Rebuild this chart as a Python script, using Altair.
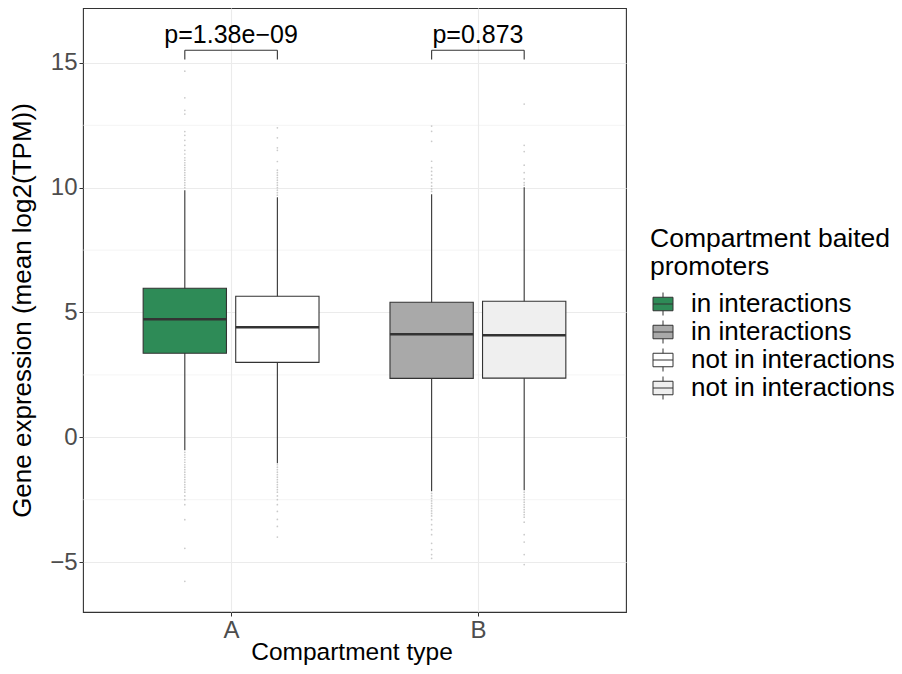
import altair as alt
import pandas as pd

# ---- data ----
compartments = ["A", "A", "B", "B"]
statuses = ["in interactions", "not in interactions", "in interactions", "not in interactions"]
q1 = [3.37, 3.00, 2.36, 2.37]
median = [4.73, 4.41, 4.13, 4.09]
q3 = [5.97, 5.65, 5.41, 5.45]
whisker_lo = [-0.52, -1.04, -2.16, -2.12]
whisker_hi = [9.90, 9.62, 9.74, 10.02]

outliers_A_in = [10.0, 10.1, 10.2, 10.3, 10.4, 10.5, 10.6, 10.7, 10.8, 10.9, 11.0, 11.1, 11.2,
                 11.35, 11.5, 11.7, 11.9, 12.1, 12.25, 12.95, 13.1, 13.6, 14.67,
                 -0.6, -0.7, -0.8, -0.9, -1.0, -1.1, -1.2, -1.3, -1.4, -1.5, -1.6, -1.7, -1.8,
                 -1.9, -2.0, -2.1, -2.2, -2.35, -2.5, -2.7, -3.3, -4.45, -5.77]
outliers_A_not = [9.7, 9.8, 9.9, 10.0, 10.1, 10.2, 10.3, 10.4, 10.5, 10.6, 10.7, 11.05, 11.5,
                  11.6, 12.0, 12.4,
                  -1.1, -1.2, -1.3, -1.4, -1.5, -1.6, -1.7, -1.8, -1.9, -2.0, -2.1, -2.2, -2.35,
                  -2.5, -2.7, -2.97, -3.29, -3.57, -4.0]
outliers_B_in = [9.85, 9.95, 10.06, 10.2, 10.35, 10.5, 10.65, 10.8, 11.06, 11.86, 12.26, 12.47,
                 -2.25, -2.35, -2.45, -2.55, -2.65, -2.75, -2.85, -2.95, -3.05, -3.15, -3.3,
                 -3.5, -3.7, -3.9, -4.25, -4.5, -4.7, -4.85]
outliers_B_not = [10.1, 10.2, 10.35, 10.6, 10.9, 11.45, 11.7, 13.35,
                  -2.2, -2.3, -2.4, -2.5, -2.6, -2.7, -2.8, -2.9, -3.0, -3.1, -3.2, -3.4,
                  -3.9, -4.2, -4.7, -5.1]
outlier_lists = [outliers_A_in, outliers_A_not, outliers_B_in, outliers_B_not]

p_labels = ["p=1.38e\u221209", "p=0.873"]

legend_order = ["A in interactions", "B in interactions", "A not in interactions", "B not in interactions"]
legend_colors = ["#2E8B57", "#A9A9A9", "#FFFFFF", "#EFEFEF"]

# ---- dodge layout like ggplot (position_dodge2, width 0.75, padding 0.1) ----
comp_pos = {"A": 1, "B": 2}
dodge = {"in interactions": -0.1875, "not in interactions": 0.1875}
half_w = 0.16875

rows = []
for i in range(4):
    xc = comp_pos[compartments[i]] + dodge[statuses[i]]
    rows.append(dict(key=f"{compartments[i]} {statuses[i]}", x=xc, xlo=xc - half_w, xhi=xc + half_w,
                     q1=q1[i], med=median[i], q3=q3[i], lo=whisker_lo[i], hi=whisker_hi[i]))
box_df = pd.DataFrame(rows)

out_rows = []
for i, lst in enumerate(outlier_lists):
    xc = comp_pos[compartments[i]] + dodge[statuses[i]]
    for v in lst:
        out_rows.append(dict(x=xc, v=v))
out_df = pd.DataFrame(out_rows)

br_rows = []
for j, c in enumerate(["A", "B"]):
    xl = comp_pos[c] + dodge["in interactions"]
    xr = comp_pos[c] + dodge["not in interactions"]
    br_rows.append(dict(xl=xl, xr=xr, xm=(xl + xr) / 2, ytop=15.51, ybot=15.14, ytext=15.8,
                        label=p_labels[j]))
br_df = pd.DataFrame(br_rows)

minor_df = pd.DataFrame({"v": [-2.5, 2.5, 7.5, 12.5]})

FONT = "Liberation Sans"
xscale = alt.Scale(domain=[0.4, 2.6], nice=False, zero=False)
yscale = alt.Scale(domain=[-7.0, 17.2], nice=False, zero=False)

xaxis = alt.Axis(values=[1, 2], labelExpr="datum.value == 1 ? 'A' : 'B'", title="Compartment type",
                 grid=True, gridColor="#EBEBEB", gridWidth=1.1, tickColor="#333333", tickSize=4,
                 labelFontSize=24, labelColor="#4D4D4D", labelPadding=2, labelFont=FONT,
                 titleFontSize=24.5, titleFont=FONT, titleColor="#000000", titleFontWeight="normal",
                 titleX=268.5, titleY=47, titleBaseline="alphabetic", domain=False)
yaxis = alt.Axis(values=[-5, 0, 5, 10, 15], title="Gene expression (mean log2(TPM))",
                 grid=True, gridColor="#EBEBEB", gridWidth=1.1, tickColor="#333333", tickSize=4,
                 labelFontSize=24, labelColor="#4D4D4D", labelPadding=2, labelFont=FONT,
                 titleFontSize=26, titleFont=FONT, titleColor="#000000", titleFontWeight="normal",
                 titleX=-61, titleY=302, titleBaseline="middle", titleAngle=-90, domain=False)

base_x = alt.X("x:Q", scale=xscale, axis=xaxis)

minor = alt.Chart(minor_df).mark_rule(color="#EBEBEB", strokeWidth=0.55).encode(
    y=alt.Y("v:Q", scale=yscale, axis=yaxis)
)

whiskers = alt.Chart(box_df).mark_rule(color="#333333", strokeWidth=1.1).encode(
    x=base_x,
    y=alt.Y("lo:Q", scale=yscale, axis=yaxis),
    y2="hi:Q",
)

points = alt.Chart(out_df).mark_circle(size=3, color="#BDBDBD", opacity=0.8).encode(
    x=alt.X("x:Q", scale=xscale, axis=xaxis),
    y=alt.Y("v:Q", scale=yscale, axis=yaxis),
)

symbol_path = ("M-1,-0.675L1,-0.675L1,0.675L-1,0.675Z M-1,0L1,0 "
               "M0,-0.675L0,-1.15 M0,0.675L0,1.15")

boxes = alt.Chart(box_df).mark_bar(stroke="#333333", strokeWidth=1.1).encode(
    x=alt.X("xlo:Q", scale=xscale, axis=xaxis),
    x2="xhi:Q",
    y=alt.Y("q1:Q", scale=yscale, axis=yaxis),
    y2="q3:Q",
    fill=alt.Fill(
        "key:N",
        scale=alt.Scale(domain=legend_order, range=legend_colors),
        legend=alt.Legend(
            title=["Compartment baited", "promoters"],
            orient="none", legendX=567, legendY=218,
            titleFontSize=26.5, titleFont=FONT, titleFontWeight="normal", titleColor="#000000",
            titleLineHeight=27.5, titlePadding=11, titleLimit=0,
            labelFontSize=26, labelFont=FONT, labelColor="#000000", labelOffset=15,
            labelLimit=0,
            labelExpr="slice(datum.label, 2)",
            symbolType=symbol_path, symbolSize=400, symbolStrokeColor="#333333",
            symbolStrokeWidth=1, symbolOpacity=1, symbolFillColor="#ffffff",
            rowPadding=0, padding=0,
        ),
    ),
)

medians = alt.Chart(box_df).mark_rule(color="#333333", strokeWidth=2.6).encode(
    x=alt.X("xlo:Q", scale=xscale, axis=xaxis),
    x2="xhi:Q",
    y=alt.Y("med:Q", scale=yscale, axis=yaxis),
)

br_h = alt.Chart(br_df).mark_rule(color="#333333", strokeWidth=1.1).encode(
    x=alt.X("xl:Q", scale=xscale, axis=xaxis), x2="xr:Q",
    y=alt.Y("ytop:Q", scale=yscale, axis=yaxis),
)
br_l = alt.Chart(br_df).mark_rule(color="#333333", strokeWidth=1.1).encode(
    x=alt.X("xl:Q", scale=xscale, axis=xaxis),
    y=alt.Y("ybot:Q", scale=yscale, axis=yaxis), y2="ytop:Q",
)
br_r = alt.Chart(br_df).mark_rule(color="#333333", strokeWidth=1.1).encode(
    x=alt.X("xr:Q", scale=xscale, axis=xaxis),
    y=alt.Y("ybot:Q", scale=yscale, axis=yaxis), y2="ytop:Q",
)
ptext = alt.Chart(br_df).mark_text(fontSize=25, font=FONT, color="#000000",
                                   baseline="alphabetic", align="center").encode(
    x=alt.X("xm:Q", scale=xscale, axis=xaxis),
    y=alt.Y("ytext:Q", scale=yscale, axis=yaxis),
    text="label:N",
)

chart = alt.layer(minor, whiskers, points, boxes, medians, br_h, br_l, br_r, ptext).properties(
    width=543, height=604,
    autosize=alt.AutoSizeParams(type="none"),
    padding={"left": 75, "top": 0, "right": 268, "bottom": 54},
).configure(
    font=FONT, background="#ffffff"
).configure_view(
    stroke="#333333", strokeWidth=1.1
)

chart.save("out.html", embed_options={"renderer": "svg", "actions": False})
